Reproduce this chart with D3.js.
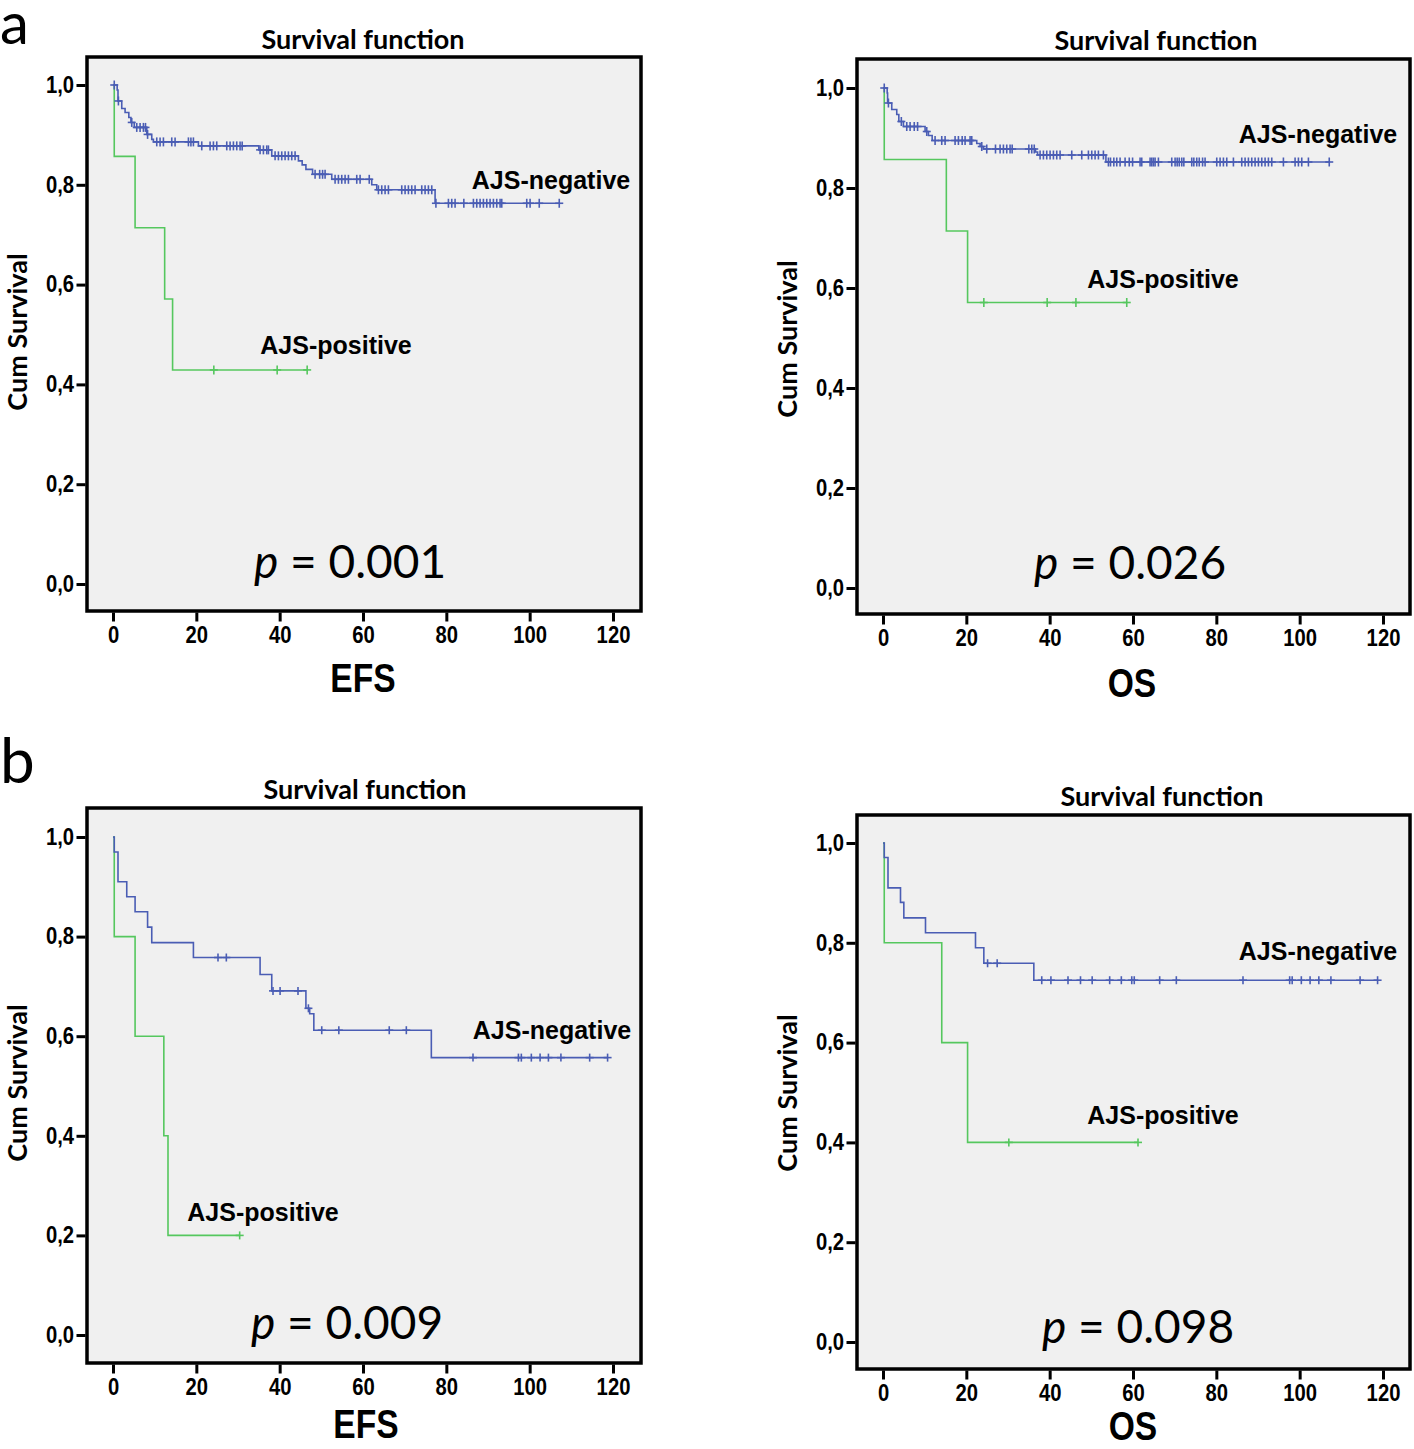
<!DOCTYPE html>
<html><head><meta charset="utf-8">
<script src="https://cdn.jsdelivr.net/npm/d3@7"></script>
<style>
html,body{margin:0;padding:0;background:#fff;}
svg{display:block;}
</style></head>
<body>
<svg id="chart" width="1414" height="1449"></svg>
<script>
// ---------------- DATA ----------------
const yTicks = [0, 0.2, 0.4, 0.6, 0.8, 1.0];
const xTicks = [0, 20, 40, 60, 80, 100, 120];
const seriesNames = ["AJS-negative", "AJS-positive"];
const panelTitles = ["Survival function", "Survival function", "Survival function", "Survival function"];
const panelXLabels = ["EFS", "OS", "EFS", "OS"];
const pValues = ["0.001", "0.026", "0.009", "0.098"];
const panelLetters = ["a", "b"];

// (a) EFS — event steps [time, survival after step], censor times
const aEfsNegSteps = [[0,1],[1.0,0.99],[1.2,0.968],[2.1,0.953],[2.9,0.945],[3.8,0.935],[4.3,0.925],[5.1,0.915],[8.1,0.901],[9.3,0.891],[9.7,0.886],[20.5,0.878],[35.0,0.870],[38.1,0.858],[44.5,0.848],[45.4,0.840],[46.3,0.831],[47.9,0.821],[52.5,0.811],[62.1,0.800],[63.3,0.790],[77.3,0.763]];
const aEfsNegCensor = [0.3,1.3,4.5,5.7,6.5,7.3,7.8,8.3,10.5,11.3,12.1,14.1,14.9,18.1,18.7,19.3,21.3,23.3,24.1,24.9,27.3,28.1,28.9,29.7,30.5,31.0,35.3,36.1,36.9,37.3,38.9,39.7,40.5,41.3,42.1,42.9,43.7,48.5,49.6,50.3,50.9,53.3,54.1,54.9,55.7,56.5,58.5,59.3,61.5,63.7,64.5,65.3,66.1,69.3,70.1,70.9,71.7,72.5,74.1,74.9,75.7,76.5,77.5,80.5,81.3,82.1,84.2,86.5,87.3,88.1,88.9,89.7,90.5,91.3,92.1,92.9,93.3,99.3,100.1,102.3,107.1];
const aEfsPosSteps = [[0,1],[0.3,0.857],[5.3,0.714],[12.4,0.571],[14.3,0.429]];
const aEfsPosCensor = [24.2,39.4,46.6];

// (a) OS
const aOsNegSteps = [[0,1],[1.0,0.99],[1.1,0.970],[2.1,0.957],[3.3,0.947],[3.8,0.933],[4.9,0.923],[10.1,0.913],[10.9,0.905],[11.8,0.895],[22.5,0.889],[23.3,0.883],[24.1,0.878],[36.6,0.872],[37.1,0.866],[53.5,0.852]];
const aOsNegCensor = [0.3,1.3,4.4,5.7,6.5,7.5,8.3,10.5,12.5,14.1,14.9,17.3,18.1,19.0,19.7,20.9,21.3,23.7,24.9,27.0,28.1,28.9,29.7,30.5,31.0,35.0,35.7,36.3,37.7,38.5,39.3,40.1,40.9,41.7,42.5,45.3,47.7,49.3,50.1,50.9,51.7,52.9,54.1,54.6,55.4,56.1,56.9,58.1,59.1,59.9,61.7,62.1,64.1,64.5,64.9,65.3,66.1,69.3,70.1,70.6,71.1,71.7,72.2,74.1,74.6,75.3,75.9,76.7,77.3,80.1,80.9,81.7,82.5,84.1,86.1,86.9,87.7,88.5,89.3,90.1,90.9,91.7,92.5,93.3,96.1,98.9,99.7,100.5,102.1,107.1];
const aOsPosSteps = [[0,1],[0.3,0.857],[15.2,0.714],[20.3,0.571]];
const aOsPosCensor = [24.2,39.4,46.3,58.5];

// (b) EFS
const bEfsNegSteps = [[0,1],[0.3,0.970],[1.2,0.910],[3.3,0.880],[5.3,0.850],[8.3,0.819],[9.3,0.788],[19.3,0.758],[35.3,0.724],[38.1,0.691],[46.3,0.656],[47.2,0.645],[48.2,0.612],[76.4,0.557]];
const bEfsNegCensor = [25.2,27.2,38.4,40.1,44.4,46.9,50.1,54.2,66.3,70.4,86.4,97.3,98.0,100.4,102.5,104.5,107.5,114.4,118.7];
const bEfsPosSteps = [[0,1],[0.3,0.8],[5.3,0.6],[12.2,0.4],[13.2,0.2]];
const bEfsPosCensor = [30.4];

// (b) OS
const bOsNegSteps = [[0,1],[0.3,0.971],[1.2,0.910],[4.2,0.881],[5.0,0.850],[10.2,0.820],[22.2,0.790],[24.2,0.759],[36.2,0.725]];
const bOsNegCensor = [25.1,27.4,38.1,40.3,44.4,47.4,50.2,54.4,57.2,59.7,60.3,66.4,70.4,86.4,97.6,98.2,100.4,102.5,104.6,107.5,114.5,118.7];
const bOsPosSteps = [[0,1],[0.3,0.8],[14.1,0.6],[20.3,0.4]];
const bOsPosCensor = [30.2,61.2];

// ---------------- LAYOUT / STYLE ----------------
const NEG_COLOR = "#4a5db4";
const POS_COLOR = "#55c75e";
const BG = "#f0f0f0";
const NARROW = "'Liberation Sans',Arial,sans-serif";
const CAL = "Lato,'Open Sans',sans-serif";
const ARIAL = "'Liberation Sans',Arial,sans-serif";
const SQUEEZE = 0.88;

const panels = [
  {box:[87,57,641,611], xr:[113,613], yr:[584,85], titleY:49, titleX:363, ylabX:27, ylabY:332, xlabY:692, xlabX:363,
   pX:350, pY:578, negPos:[551,189], posPos:[336,354],
   neg:[aEfsNegSteps,aEfsNegCensor], pos:[aEfsPosSteps,aEfsPosCensor], idx:0, cross:[4.5,4]},
  {box:[857,59,1410,614], xr:[883,1383], yr:[588,88], titleY:50, titleX:1156, ylabX:797, ylabY:339, xlabY:697, xlabX:1132,
   pX:1130, pY:579, negPos:[1318,143], posPos:[1163,288],
   neg:[aOsNegSteps,aOsNegCensor], pos:[aOsPosSteps,aOsPosCensor], idx:1, cross:[4.5,4]},
  {box:[87,808,641,1363], xr:[113,613], yr:[1335,837], titleY:799, titleX:365, ylabX:27, ylabY:1083, xlabY:1438, xlabX:366,
   pX:347, pY:1339, negPos:[552,1039], posPos:[263,1221],
   neg:[bEfsNegSteps,bEfsNegCensor], pos:[bEfsPosSteps,bEfsPosCensor], idx:2, cross:[4,4]},
  {box:[857,815,1410,1369], xr:[883,1383], yr:[1342,843], titleY:806, titleX:1162, ylabX:797, ylabY:1093, xlabY:1440, xlabX:1133,
   pX:1138, pY:1343, negPos:[1318,960], posPos:[1163,1124],
   neg:[bOsNegSteps,bOsNegCensor], pos:[bOsPosSteps,bOsPosCensor], idx:3, cross:[4,4]}
];

const svg = d3.select("#chart");
svg.append("rect").attr("width",1414).attr("height",1449).attr("fill","#fff");

// panel letters
svg.append("text").attr("x",0).attr("y",44).text(panelLetters[0])
  .attr("font-family",CAL).attr("font-size",58).attr("fill","#000");
svg.append("text").attr("x",0).attr("y",783).text(panelLetters[1])
  .attr("font-family",CAL).attr("font-size",62).attr("fill","#000");

function survAt(steps, t){
  let s = steps[0][1];
  for (const [ti, si] of steps){ if (ti <= t) s = si; else break; }
  return s;
}

panels.forEach(p => {
  const [bx0,by0,bx1,by1] = p.box;
  const g = svg.append("g");
  const x = d3.scaleLinear().domain([0,120]).range(p.xr);
  const y = d3.scaleLinear().domain([0,1]).range(p.yr);

  // background + frame
  g.append("rect").attr("x",bx0).attr("y",by0).attr("width",bx1-bx0).attr("height",by1-by0)
    .attr("fill",BG).attr("stroke","#000").attr("stroke-width",3.5);

  // y axis
  const ya = g.append("g").attr("transform",`translate(${bx0-1.5},0)`)
    .call(d3.axisLeft(y).tickValues(yTicks).tickSize(9).tickPadding(4)
      .tickFormat(d => d.toFixed(1).replace(".", ",")));
  ya.select(".domain").remove();
  ya.selectAll(".tick line").attr("stroke","#000").attr("stroke-width",3);
  ya.selectAll(".tick text").attr("font-family",NARROW).attr("font-weight","bold")
    .attr("font-size",23).attr("fill","#000").attr("transform",`scale(${SQUEEZE},1)`);

  // x axis
  const xa = g.append("g").attr("transform",`translate(0,${by1+1.5})`)
    .call(d3.axisBottom(x).tickValues(xTicks).tickSize(9).tickPadding(5));
  xa.select(".domain").remove();
  xa.selectAll(".tick line").attr("stroke","#000").attr("stroke-width",3);
  xa.selectAll(".tick text").attr("font-family",NARROW).attr("font-weight","bold")
    .attr("font-size",23).attr("fill","#000").attr("transform",`scale(${SQUEEZE},1)`);

  // title
  g.append("text").attr("x",p.titleX).attr("y",p.titleY).attr("text-anchor","middle")
    .attr("font-family",CAL).attr("font-weight","bold").attr("font-size",27).text(panelTitles[p.idx]);
  // y label
  g.append("text").attr("transform",`translate(${p.ylabX},${p.ylabY}) rotate(-90)`).attr("text-anchor","middle")
    .attr("font-family",CAL).attr("font-weight","bold").attr("font-size",27).text("Cum Survival");
  // x label
  g.append("text").attr("transform",`translate(${p.xlabX},${p.xlabY}) scale(0.84,1)`).attr("text-anchor","middle")
    .attr("font-family",NARROW).attr("font-weight","bold").attr("font-size",40).text(panelXLabels[p.idx]);

  // p value
  const pt = g.append("text").attr("x",p.pX).attr("y",p.pY).attr("text-anchor","middle")
    .attr("font-family",CAL).attr("font-size",46).attr("fill","#000");
  pt.append("tspan").attr("font-style","italic").text("p");
  pt.append("tspan").text(" = " + pValues[p.idx]);

  // curves
  const line = d3.line().x(d=>x(d[0])).y(d=>y(d[1])).curve(d3.curveStepAfter);
  [[p.pos, POS_COLOR],[p.neg, NEG_COLOR]].forEach(([[steps,cens],col]) => {
    const tEnd = Math.max(steps[steps.length-1][0], d3.max(cens));
    const pts = steps.concat([[tEnd, steps[steps.length-1][1]]]);
    g.append("path").attr("d", line(pts)).attr("fill","none").attr("stroke",col).attr("stroke-width",1.6);
    const [hh, hw] = p.cross;
    const cg = g.append("g").attr("stroke",col).attr("stroke-width",1.6);
    cens.forEach(t => {
      const cx = x(t), cy = y(survAt(steps,t));
      cg.append("line").attr("x1",cx).attr("x2",cx).attr("y1",cy-hh).attr("y2",cy+hh);
      cg.append("line").attr("x1",cx-hw).attr("x2",cx+hw).attr("y1",cy).attr("y2",cy);
    });
  });

  // series labels
  g.append("text").attr("x",p.negPos[0]).attr("y",p.negPos[1]).attr("text-anchor","middle")
    .attr("font-family",ARIAL).attr("font-weight","bold").attr("font-size",25).text(seriesNames[0]);
  g.append("text").attr("x",p.posPos[0]).attr("y",p.posPos[1]).attr("text-anchor","middle")
    .attr("font-family",ARIAL).attr("font-weight","bold").attr("font-size",25).text(seriesNames[1]);
});
</script>
</body></html>
